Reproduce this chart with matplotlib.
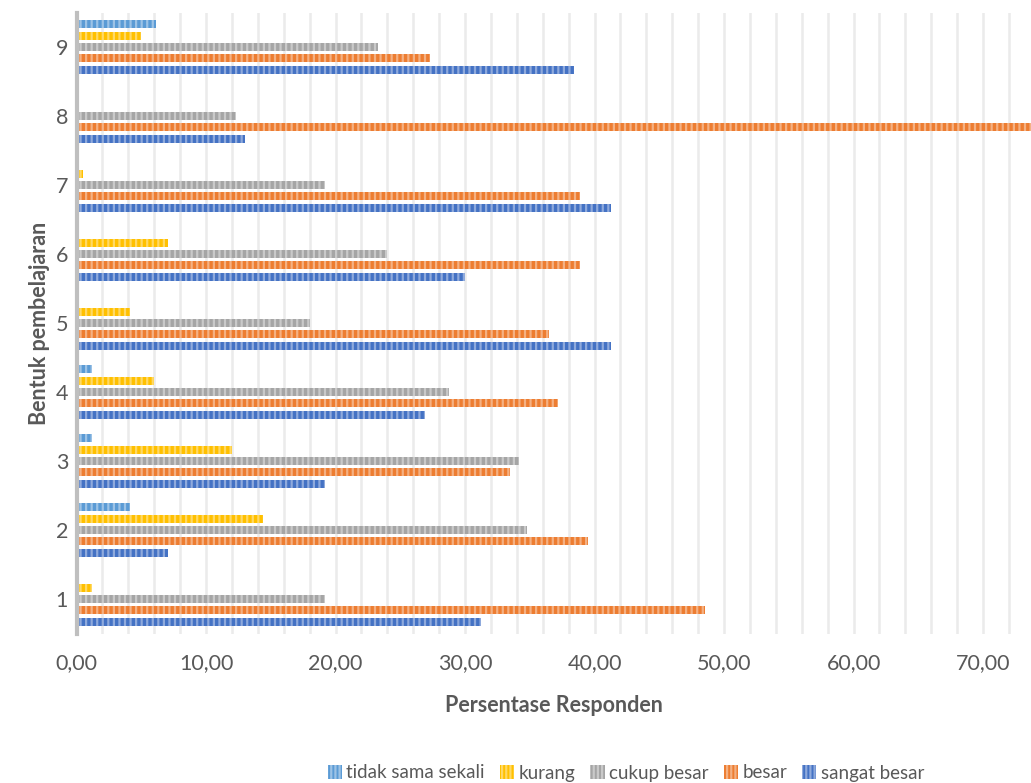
import matplotlib.pyplot as plt
from matplotlib.patches import Patch
import numpy as np

plt.rcParams['font.family'] = ['Lato', 'DejaVu Sans']
plt.rcParams['hatch.linewidth'] = 1.6

categories = ['1', '2', '3', '4', '5', '6', '7', '8', '9']
series_names = ['tidak sama sekali', 'kurang', 'cukup besar', 'besar', 'sangat besar']

tidak_sama_sekali = [0, 4.1, 1.2, 1.2, 0, 0, 0, 0, 6.1]
kurang = [1.2, 14.4, 12.0, 6.0, 4.1, 7.1, 0.5, 0, 5.0]
cukup_besar = [19.2, 34.8, 34.2, 28.8, 18.0, 24.0, 19.2, 12.3, 23.3]
besar = [48.5, 39.5, 33.5, 37.2, 36.5, 38.9, 38.9, 74.7, 27.3]
sangat_besar = [31.2, 7.1, 19.2, 26.9, 41.3, 30.0, 41.3, 13.0, 38.4]

values = [tidak_sama_sekali, kurang, cukup_besar, besar, sangat_besar]
colors = ['#5B9BD5', '#FFC000', '#A5A5A5', '#ED7D31', '#4472C4']
stripes = ['#9DC3E6', '#FFD966', '#C9C9C9', '#F4B183', '#8FAADC']
offsets = [2, 1, 0, -1, -2]

fig = plt.figure(figsize=(10.31, 7.83), dpi=100)
ax = fig.add_axes([0.0742, 1 - 633.5 / 783, 1 - 0.0742, 621 / 783])

y = np.arange(1, len(categories) + 1)
step = 0.164
for vals, c, sc, off in zip(values, colors, stripes, offsets):
    ax.barh(y + off * step, vals, height=0.118, color=c, edgecolor=sc,
            hatch='|||', linewidth=0, zorder=3)

ax.set_xlim(0, 73.7)
ax.set_ylim(0.5, 9.5)
ax.set_xticks(np.arange(0, 71, 10))
ax.set_xticklabels([f'{v:.2f}'.replace('.', ',') for v in np.arange(0, 71, 10)])
ax.set_xticks(np.arange(0, 74, 2), minor=True)
ax.set_yticks(y)
ax.set_yticklabels(categories)
ax.grid(axis='x', which='both', color='#EBEBEB', lw=1.8, zorder=0)
ax.tick_params(which='both', length=0, labelsize=15.5, colors='#595959')
ax.tick_params(axis='x', pad=14)
ax.tick_params(axis='y', pad=6)
for s in ['top', 'right', 'bottom']:
    ax.spines[s].set_visible(False)
ax.spines['left'].set_color('#BFBFBF')
ax.spines['left'].set_linewidth(3)
ax.spines['left'].set_zorder(4)

ax.set_xlabel('Persentase Responden', fontsize=15.5, fontweight='bold', color='#595959', labelpad=16)
ax.set_ylabel('Bentuk pembelajaran', fontsize=15.5, fontweight='bold', color='#595959', labelpad=4)

handles = [Patch(facecolor=c, edgecolor=sc, hatch='||||', linewidth=0)
           for c, sc in zip(colors, stripes)]
fig.legend(handles, series_names, loc='center', bbox_to_anchor=(626 / 1031, 1 - 773 / 783),
           ncol=5, frameon=False, fontsize=13.5, handlelength=0.75, handleheight=0.75,
           handletextpad=0.25, columnspacing=0.8, labelcolor='#595959')

fig.savefig('out.png', dpi=100)
